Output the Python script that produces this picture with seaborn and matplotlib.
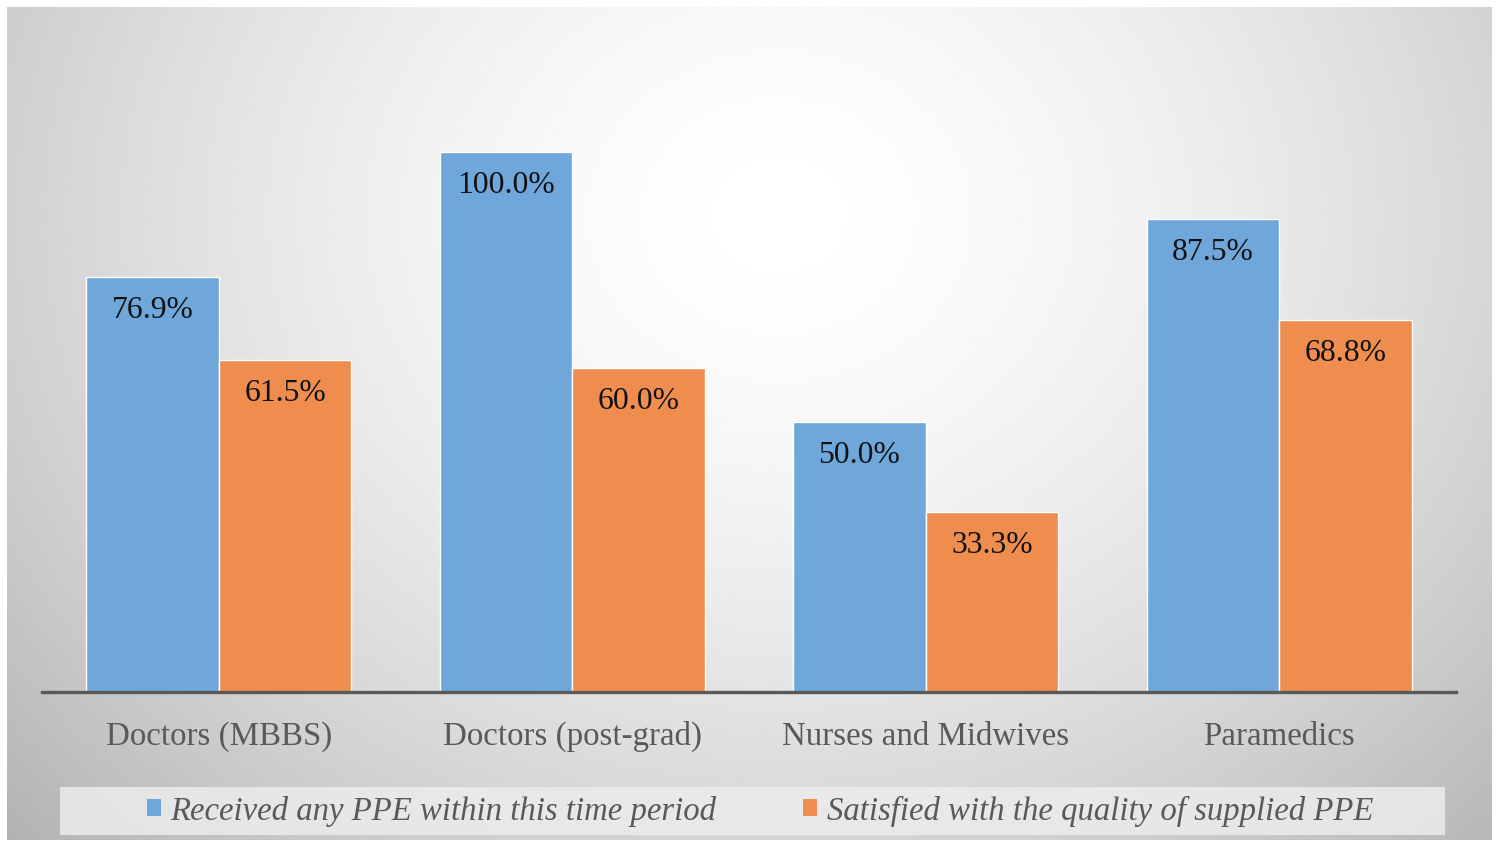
import numpy as np
import matplotlib.pyplot as plt
import pandas as pd
import seaborn as sns
from matplotlib.patches import Patch, Rectangle

categories = ['Doctors (MBBS)', 'Doctors (post-grad)', 'Nurses and Midwives', 'Paramedics']
received = [76.9, 100.0, 50.0, 87.5]
satisfied = [61.5, 60.0, 33.3, 68.8]
series = ['Received any PPE within this time period', 'Satisfied with the quality of supplied PPE']
colors = ['#6FA7DA', '#EE8D4E']

df = pd.DataFrame({
    'group': categories * 2,
    'value': received + satisfied,
    'series': [series[0]] * 4 + [series[1]] * 4,
})

sns.set_style('white')
plt.rcParams['font.family'] = ['Liberation Serif', 'DejaVu Serif']

W, H = 1499, 844
fig = plt.figure(figsize=(W / 100, H / 100), dpi=100)

# radial grey background
bg = fig.add_axes([7 / W, 4 / H, (1492 - 7) / W, (840 - 7) / H])
yy, xx = np.mgrid[0:1:400j, 0:1:700j]
r = np.sqrt(((xx - 0.52) / 0.62) ** 2 + ((yy - 0.25) / 0.95) ** 2)
shade = 1 - 0.24 * np.clip(r, 0, 1.3) ** 1.6
bg.imshow(shade, cmap='gray', vmin=0, vmax=1, aspect='auto', extent=[0, 1, 1, 0])
bg.axis('off')

# legend box
fig.patches.append(Rectangle((60 / W, (844 - 835) / H), 1385 / W, 48 / H,
                             transform=fig.transFigure, facecolor='#ececec',
                             edgecolor='none', alpha=0.85, zorder=1))

ax = fig.add_axes([42 / W, (844 - 692) / H, (1456 - 42) / W, (692 - 44) / H])
ax.patch.set_alpha(0)
sns.barplot(data=df, x='group', y='value', hue='series', palette=colors,
            width=0.75, edgecolor='white', linewidth=1, saturation=1,
            ax=ax, legend=False)
ax.set_xlim(-0.5, 3.5)
ax.set_ylim(0, 120)

for p in ax.patches:
    h = p.get_height()
    if h > 0:
        ax.annotate(f'{h:.1f}%', (p.get_x() + p.get_width() / 2, h),
                    xytext=(0, -24), textcoords='offset points',
                    ha='center', va='center', fontsize=22.8, color='#111111')

for s in ['top', 'left', 'right']:
    ax.spines[s].set_visible(False)
ax.spines['bottom'].set_color('#595959')
ax.spines['bottom'].set_linewidth(2.4)
ax.set_yticks([])
ax.set_xlabel('')
ax.set_ylabel('')
ax.tick_params(axis='x', length=0, pad=21, labelsize=23.7, labelcolor='#595959')

handles = [Patch(facecolor=c, edgecolor='none') for c in colors]
fig.legend(handles, series, loc='center', bbox_to_anchor=(760 / W, (844 - 811) / H),
           ncol=2, frameon=False, prop={'style': 'italic', 'size': 23.6},
           labelcolor='#595959', handlelength=0.42, handleheight=0.42,
           handletextpad=0.3, columnspacing=2.65)

fig.savefig('out.png', dpi=100)
